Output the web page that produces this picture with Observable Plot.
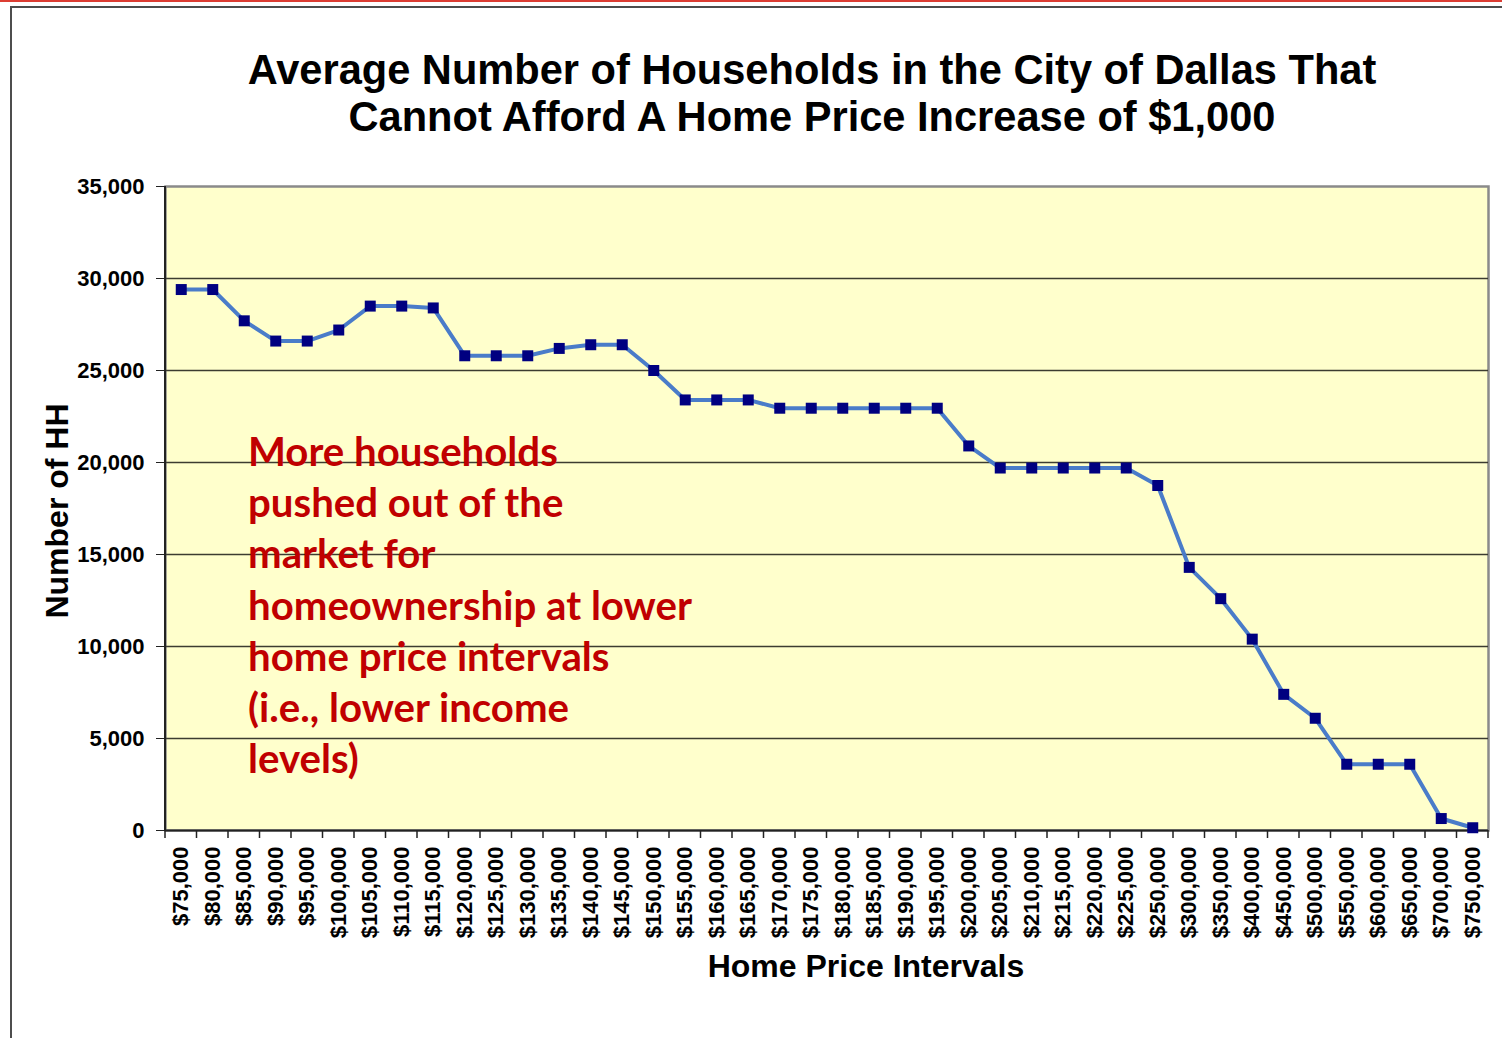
<!DOCTYPE html>
<html>
<head>
<meta charset="utf-8">
<script src="https://cdn.jsdelivr.net/npm/d3@7"></script>
<script src="https://cdn.jsdelivr.net/npm/@observablehq/plot@0.6"></script>
<style>
  html, body { margin: 0; padding: 0; background: #fff; overflow: hidden; }
  #wrap { position: relative; width: 1502px; height: 1038px; overflow: hidden; background: #fff; }
  #redbar { position: absolute; left: 0; top: 0; width: 1502px; height: 2px; background: #dc3d33; }
  #outer { position: absolute; left: 10px; top: 6px; width: 1600px; height: 1200px; border: 2px solid #4d4d4d; box-sizing: border-box; }
  #title { position: absolute; left: 112px; width: 1400px; top: 46px; text-align: center;
           font-family: "Liberation Sans", Arial, sans-serif; font-weight: bold; font-size: 41.6px; line-height: 47px; color: #000; }
  #plot { position: absolute; left: 0; top: 0; }
  #ylabel { position: absolute; left: 57px; top: 511px; transform: translate(-50%, -50%) rotate(-90deg);
            font-family: "Liberation Sans", Arial, sans-serif; font-weight: bold; font-size: 32px; white-space: nowrap; color:#000; }
  #xlabel { position: absolute; left: 866px; top: 948px; transform: translateX(-50%);
            font-family: "Liberation Sans", Arial, sans-serif; font-weight: bold; font-size: 32px; white-space: nowrap; color:#000; line-height: 36px; }
  #note { position: absolute; left: 248px; top: 425px; font-family: Lato, "Open Sans", sans-serif; font-weight: bold;
          color: #c00000; line-height: 51.2px; white-space: nowrap; }
</style>
</head>
<body>
<div id="wrap">
  <div id="redbar"></div>
  <div id="outer"></div>
  <div id="title">Average Number of Households in the City of Dallas That<br>Cannot Afford A Home Price Increase of $1,000</div>
  <div id="plot"></div>
  <div id="ylabel">Number of HH</div>
  <div id="xlabel">Home Price Intervals</div>
  <div id="note"></div>
</div>
<script>
// ---- Data ----
const priceIntervals = [
  "$75,000", "$80,000", "$85,000", "$90,000", "$95,000", "$100,000", "$105,000", "$110,000",
  "$115,000", "$120,000", "$125,000", "$130,000", "$135,000", "$140,000", "$145,000", "$150,000",
  "$155,000", "$160,000", "$165,000", "$170,000", "$175,000", "$180,000", "$185,000", "$190,000",
  "$195,000", "$200,000", "$205,000", "$210,000", "$215,000", "$220,000", "$225,000", "$250,000",
  "$300,000", "$350,000", "$400,000", "$450,000", "$500,000", "$550,000", "$600,000", "$650,000",
  "$700,000", "$750,000"
];
const households = [
  29400, 29400, 27700, 26600, 26600, 27200, 28500, 28500,
  28400, 25800, 25800, 25800, 26200, 26400, 26400, 25000,
  23400, 23400, 23400, 22950, 22950, 22950, 22950, 22950,
  22950, 20900, 19700, 19700, 19700, 19700, 19700, 18750,
  14300, 12600, 10400, 7400, 6100, 3600, 3600, 3600,
  650, 150
];
const yTicks = [0, 5000, 10000, 15000, 20000, 25000, 30000, 35000];
const noteLines = [
  "More households",
  "pushed out of the",
  "market for",
  "homeownership at lower",
  "home price intervals",
  "(i.e., lower income",
  "levels)"
];

const data = priceIntervals.map((p, i) => ({price: p, value: households[i]}));

const plot = Plot.plot({
  width: 1502,
  height: 1038,
  marginTop: 186,
  marginBottom: 208,
  marginLeft: 165,
  marginRight: 14,
  style: {background: "transparent", fontFamily: "'Liberation Sans', Arial, sans-serif", color: "#000"},
  x: {type: "band", domain: priceIntervals, padding: 0, round: false, axis: null},
  y: {domain: [0, 35000], axis: null},
  marks: [
    Plot.frame({fill: "#ffffcc", stroke: "#8a8a8a", strokeWidth: 2.5}),
    Plot.gridY(yTicks.filter(v => v > 0 && v < 35000), {stroke: "#3c3c30", strokeOpacity: 1, strokeWidth: 1.5}),
    Plot.axisY(yTicks, {tickSize: 9, tickPadding: 12, tickFormat: d3.format(","), fontSize: 22, fontWeight: "bold", label: null, stroke: "#222"}),
    Plot.axisX({tickSize: 0, tickPadding: 16, tickRotate: -90, fontSize: 22, fontWeight: "bold", label: null}),
    Plot.ruleY([0], {stroke: "#222", strokeWidth: 2}),
    Plot.line(data, {x: "price", y: "value", stroke: "#4a7cc9", strokeWidth: 4}),
    Plot.dot(data, {x: "price", y: "value", symbol: "square", r: 6.2, fill: "#000080", stroke: "none"})
  ]
});
document.getElementById("plot").appendChild(plot);

// boundary ticks and dark left axis line, from the library's x and y scales
const xs = plot.scale("x");
const ys = plot.scale("y");
const svg = d3.select(plot);
const [x0, x1] = xs.range;
const yBottom = ys.apply(0), yTop = ys.apply(35000);
const g = svg.append("g").attr("stroke", "#222").attr("stroke-width", 1.5);
for (let i = 0; i <= priceIntervals.length; i++) {
  const xp = x0 + i * xs.step;
  g.append("line").attr("x1", xp).attr("x2", xp).attr("y1", yBottom).attr("y2", yBottom + 8);
}
svg.append("line").attr("x1", x0).attr("x2", x0).attr("y1", yTop).attr("y2", yBottom)
  .attr("stroke", "#222").attr("stroke-width", 2);

// annotation (fit the widest line to the reference width)
const note = document.getElementById("note");
const ctx = document.createElement("canvas").getContext("2d");
ctx.font = "bold 100px Lato";
const w = ctx.measureText("homeownership at lower").width;
note.style.fontSize = (444 / w * 100).toFixed(1) + "px";
note.innerHTML = noteLines.join("<br>");
</script>
</body>
</html>
